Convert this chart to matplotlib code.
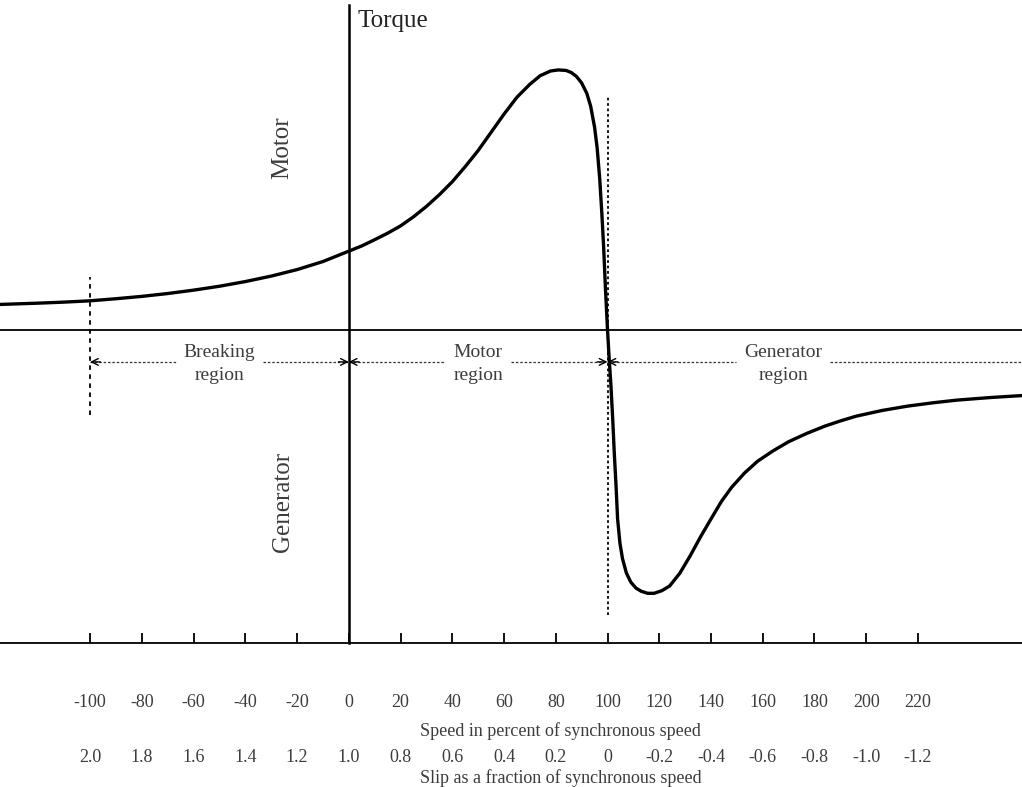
import matplotlib
matplotlib.use("Agg")
import matplotlib.pyplot as plt

plt.rcParams['font.family'] = ['Liberation Serif', 'DejaVu Serif']

# Torque-speed characteristic of an induction machine (torque in per-unit of pull-out torque)
speed_pct = [-135, -120, -110, -100, -90, -80, -70, -60, -50, -40, -30, -20, -10,
             0, 5, 10, 15, 20, 25, 30, 35, 40, 45, 50, 55, 60, 65, 70, 74, 78, 81,
             84, 86, 88, 90, 92, 93.5, 95, 96, 97, 97.8, 98.5, 99.2, 100,
             100.7, 101.3, 102, 102.6, 103.3, 103.9, 104.8, 105.8, 107.3, 109, 111,
             113, 115.5, 118, 121, 124, 128, 132, 136, 140, 144, 148, 153, 158, 164,
             170, 177, 184, 190, 196, 206, 216, 226, 235, 248, 261]
torque_pu = [0.098, 0.103, 0.107, 0.112, 0.12, 0.129, 0.14, 0.153, 0.168, 0.186, 0.207,
             0.232, 0.263,
             0.303, 0.323, 0.347, 0.372, 0.40, 0.435, 0.475, 0.52, 0.57, 0.628, 0.69,
             0.76, 0.83, 0.895, 0.945, 0.978, 0.996, 1.0,
             0.998, 0.99, 0.975, 0.95, 0.91, 0.86, 0.78, 0.70, 0.58, 0.45, 0.32, 0.16, 0.0,
             -0.12, -0.21, -0.34, -0.47, -0.60, -0.727, -0.82, -0.88, -0.935, -0.97, -0.993,
             -1.005, -1.013, -1.013, -1.003, -0.985, -0.935, -0.868, -0.795, -0.727, -0.66,
             -0.605, -0.55, -0.505, -0.465,
             -0.43, -0.398, -0.37, -0.35, -0.332, -0.31, -0.293, -0.28, -0.27, -0.26, -0.252]

speed_ticks = [-100, -80, -60, -40, -20, 0, 20, 40, 60, 80, 100, 120, 140, 160, 180, 200, 220]
speed_labels = ['-100', '-80', '-60', '-40', '-20', '0', '20', '40', '60', '80', '100',
                '120', '140', '160', '180', '200', '220']
slip_labels = ['2.0', '1.8', '1.6', '1.4', '1.2', '1.0', '0.8', '0.6', '0.4', '0.2', '0',
               '-0.2', '-0.4', '-0.6', '-0.8', '-1.0', '-1.2']

region_edges = [-100, 0, 100]
region_names = ['Breaking\nregion', 'Motor\nregion', 'Generator\nregion']
region_centers = [-50, 50, 168]

XMIN, XMAX = -134.8, 260.2
YMIN, YMAX = -1.758, 1.269
AXIS_Y = -1.204
TXT = '#3c3c3c'

fig = plt.figure(figsize=(10.22, 7.87), dpi=100)
ax = fig.add_axes([0, 0, 1, 1])
ax.set_xlim(XMIN, XMAX)
ax.set_ylim(YMIN, YMAX)

for side in ('left', 'right', 'top'):
    ax.spines[side].set_visible(False)
ax.spines['bottom'].set_position(('data', AXIS_Y))
ax.spines['bottom'].set_linewidth(1.3)
ax.set_yticks([])
ax.set_xticks(speed_ticks)
ax.set_xticklabels(speed_labels, fontsize=13, color=TXT)
ax.tick_params(axis='x', direction='in', length=7.5, width=1.3, pad=37)

# slip scale under the speed scale
for s, lab in zip(speed_ticks, slip_labels):
    ax.text(s, -1.645, lab, ha='center', va='center', fontsize=13, color=TXT)
ax.text(82, -1.542, 'Speed in percent of synchronous speed', ha='center', va='center',
        fontsize=13, color=TXT)
ax.text(82, -1.725, 'Slip as a fraction of synchronous speed', ha='center', va='center',
        fontsize=13, color=TXT)

# zero-torque line and torque axis
ax.axhline(0, color='black', lw=1.3)
ax.plot([0, 0], [AXIS_Y, 1.25], color='black', lw=1.8)
ax.text(3.5, 1.19, 'Torque', ha='left', va='center', fontsize=18, color='#222222')
ax.text(-25.8, 0.70, 'Motor', rotation=90, ha='center', va='center', fontsize=18, color=TXT)
ax.text(-25.4, -0.66, 'Generator', rotation=90, ha='center', va='center', fontsize=18, color=TXT)

# region boundaries at standstill-reversal and synchronous speed
ax.plot([-100, -100], [-0.327, 0.204], color='black', lw=1.3, ls=(0, (2.5, 2.5)))
ax.plot([100, 100], [-1.096, 0.904], color='black', lw=1.3, ls=(0, (1.5, 1.5)))

# characteristic curve
ax.plot(speed_pct, torque_pu, color='black', lw=2.4, solid_capstyle='round',
        solid_joinstyle='round')

# region labels with dotted span markers
fig.canvas.draw()
renderer = fig.canvas.get_renderer()
inv = ax.transData.inverted()
y_arrow = -0.123
bounds = region_edges + [XMAX]
for i, (name, cx) in enumerate(zip(region_names, region_centers)):
    t = ax.text(cx, -0.13, name, ha='center', va='center', fontsize=14, color=TXT,
                linespacing=1.45)
    bb = t.get_window_extent(renderer)
    x0 = inv.transform((bb.x0 - 8, 0))[0]
    x1 = inv.transform((bb.x1 + 8, 0))[0]
    left, right = bounds[i], bounds[i + 1]
    ax.plot([left, x0], [y_arrow, y_arrow], color='#333333', lw=0.9, ls=(0, (2, 1.5)))
    ax.plot([x1, right], [y_arrow, y_arrow], color='#333333', lw=0.9, ls=(0, (2, 1.5)))
    ax.annotate('', xy=(left, y_arrow), xytext=(left + 4, y_arrow),
                arrowprops=dict(arrowstyle='->', lw=1.0, color='black', mutation_scale=12,
                                shrinkA=0, shrinkB=0))
    if i < len(region_edges) - 1:
        ax.annotate('', xy=(right, y_arrow), xytext=(right - 4, y_arrow),
                    arrowprops=dict(arrowstyle='->', lw=1.0, color='black', mutation_scale=12,
                                    shrinkA=0, shrinkB=0))

fig.savefig('out.png', dpi=100)
